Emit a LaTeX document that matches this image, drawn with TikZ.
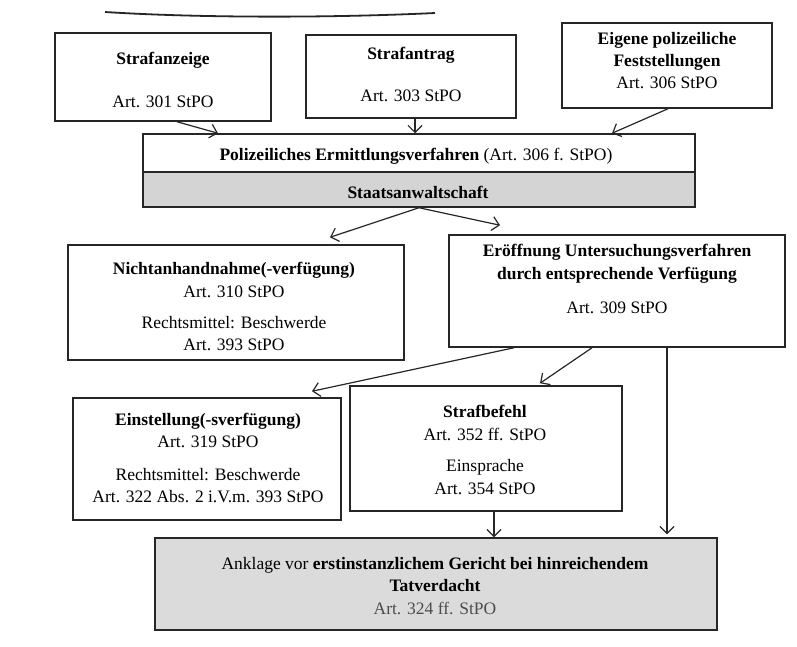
\documentclass[tikz,border=0pt]{standalone}
\usepackage{fontspec}
\setmainfont{Liberation Serif}
\usetikzlibrary{arrows.meta,calc}
\begin{document}
\begin{tikzpicture}[x=1pt,y=-1pt,
  box/.style={draw=black!85, line width=1.5pt, inner sep=0pt, rectangle},
  shaded/.style={box, fill=black!17},
  txt/.style={align=center, font=\fontsize{17.5}{22.5}\selectfont, text=black, inner sep=0pt},
  flow/.style={draw=black!85, line width=1.2pt, -{Straight Barb[length=7pt,width=14pt,line width=1.2pt]}},
]
\useasboundingbox (0,0) rectangle (797,646);

% stroke along the top edge
\draw[line width=1.8pt, black!85] (105,12) .. controls (200,18) and (330,18) .. (435,13);

% sources of the proceedings
\node[box, minimum width=216pt, minimum height=88pt] (anz) at (163,77) {};
\node[txt] (anzT) at (163,80) {\textbf{Strafanzeige}\\[21pt]Art. 301 StPO};

\node[box, minimum width=210pt, minimum height=83pt] (ant) at (411,76.5) {};
\node[txt] (antT) at (411,74) {\textbf{Strafantrag}\\[19.5pt]Art. 303 StPO};

\node[box, minimum width=210pt, minimum height=85pt] (eig) at (667,65.5) {};
\node[txt, font=\fontsize{17.5}{22}\selectfont] (eigT) at (667,61) {\textbf{Eigene polizeiliche}\\\textbf{Feststellungen}\\Art. 306 StPO};

% police investigation with the prosecution band
\node[box, minimum width=552pt, minimum height=38pt] (pol) at (419,153) {};
\node[txt] (polT) at (416,156) {\textbf{Polizeiliches Ermittlungsverfahren} (Art. 306 f. StPO)};
\node[shaded, minimum width=552pt, minimum height=35pt] (sta) at (419,189.5) {};
\node[txt] (staT) at (418,192) {\textbf{Staatsanwaltschaft}};

% decisions of the prosecution
\node[box, minimum width=336pt, minimum height=115pt] (nicht) at (236,302.5) {};
\node[txt] (nichtT) at (234,306.5) {\textbf{Nichtanhandnahme(-verfügung)}\\Art. 310 StPO\\[8.5pt]Rechtsmittel: Beschwerde\\Art. 393 StPO};

\node[box, minimum width=336pt, minimum height=112pt] (eroe) at (617,291) {};
\node[txt] (eroeT) at (617,279) {\textbf{Eröffnung Untersuchungsverfahren}\\\textbf{durch entsprechende Verfügung}\\[12pt]Art. 309 StPO};

\node[box, minimum width=268pt, minimum height=122pt] (ein) at (207,459) {};
\node[txt] (einT) at (208,458) {\textbf{Einstellung(-sverfügung)}\\Art. 319 StPO\\[10pt]Rechtsmittel: Beschwerde\\Art. 322 Abs. 2 i.V.m. 393 StPO};

\node[box, minimum width=272pt, minimum height=125pt] (stb) at (486,448.5) {};
\node[txt] (stbT) at (485,450) {\textbf{Strafbefehl}\\Art. 352 ff. StPO\\[9pt]Einsprache\\Art. 354 StPO};

% indictment
\node[shaded, fill=black!14, minimum width=562pt, minimum height=92pt] (ankl) at (436,584) {};
\node[txt] (anklT) at (435,586) {Anklage vor \textbf{erstinstanzlichem Gericht bei hinreichendem}\\\textbf{Tatverdacht}\\{\color{black!70}Art. 324 ff. StPO}};

% connectors
\draw[flow] ($(anz.south)+(14,0)$) -- ($(pol.north)+(-201,0)$);
\draw[flow] ($(ant.south)+(4,0)$) -- ($(ant.south |- pol.north)+(4,0)$);
\draw[flow] ($(eig.south)+(1,0)$) -- ($(pol.north)+(193,0)$);
\draw[flow] (sta.south) -- ($(nicht.north)+(94,-7)$);
\draw[flow] (sta.south) -- ($(eroe.north)+(-117,-9)$);
\draw[flow] ($(eroe.south)+(-103,0)$) -- ($(ein.north)+(105,-6)$);
\draw[flow] ($(eroe.south)+(-25,0)$) -- ($(stb.north)+(54,-2)$);
\draw[flow] ($(eroe.south)+(50,0)$) -- ($(ankl.north -| eroe.south)+(50,-3)$);
\draw[flow] ($(stb.south)+(8,0)$) -- ($(stb.south |- ankl.north)+(8,0)$);
\end{tikzpicture}
\end{document}
